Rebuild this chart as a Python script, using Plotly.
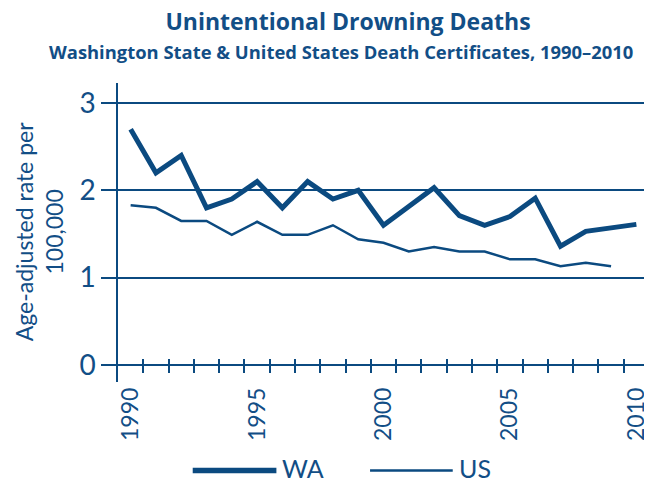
import plotly.graph_objects as go

years = list(range(1990, 2011))
wa_rate = [2.7, 2.2, 2.4, 1.8, 1.9, 2.1, 1.8, 2.1, 1.9, 2.0, 1.6,
           1.82, 2.03, 1.71, 1.6, 1.7, 1.91, 1.36, 1.53, 1.57, 1.61]
us_years = list(range(1990, 2010))
us_rate = [1.83, 1.8, 1.65, 1.65, 1.49, 1.64, 1.49, 1.49, 1.6, 1.44, 1.4,
           1.3, 1.35, 1.3, 1.3, 1.21, 1.21, 1.13, 1.17, 1.13]
x_label_years = [1990, 1995, 2000, 2005, 2010]
y_ticks = [0, 1, 2, 3]
minor_tick_years = [y + 0.5 for y in range(1990, 2010)]

title = "Unintentional Drowning Deaths"
subtitle = "Washington State &amp; United States Death Certificates, 1990\u20132010"
y_title = "Age-adjusted rate per<br>100,000"

BLUE = "#0b4a80"
TEXT = "#124e86"
FONT = "Lato"
TFONT = "Open Sans"

# the page body has an 8px margin; work in page pixels and shift
OFF = 8
W, H = 652 - OFF, 479 - OFF
ML, MR, MT, MB = 118 - OFF, 1, 83 - OFF, 97
PW, PH = W - ML - MR, H - MT - MB


def px(x):
    return (x - OFF - ML) / PW


def py(y):
    return (H - MB - (y - OFF)) / PH


def fx(x):
    return (x - OFF) / W


def fy(y):
    return 1 - (y - OFF) / H


fig = go.Figure()
fig.add_trace(go.Scatter(x=years, y=wa_rate, mode="lines", name="WA",
                         line=dict(color=BLUE, width=5), showlegend=False,
                         hoverinfo="skip"))
fig.add_trace(go.Scatter(x=us_years, y=us_rate, mode="lines", name="US",
                         line=dict(color=BLUE, width=2.5), showlegend=False,
                         hoverinfo="skip"))
# helper trace so the tick axis is drawn
fig.add_trace(go.Scatter(x=years, y=[None] * len(years), xaxis="x2",
                         showlegend=False, hoverinfo="skip"))

fig.update_layout(
    width=W, height=H, autosize=False,
    margin=dict(l=ML, r=MR, t=MT, b=MB, pad=0),
    paper_bgcolor="white", plot_bgcolor="white",
    font=dict(family=FONT, color=TEXT),
    title=dict(text="<b>" + title + "</b>", x=fx(348), y=fy(22),
               xref="paper", yref="container", xanchor="center",
               yanchor="middle",
               font=dict(size=23, color=TEXT, family=TFONT)),
    xaxis=dict(range=[1989.5, 2010.5], tickvals=x_label_years,
               ticktext=[str(v) for v in x_label_years], tickangle=-90,
               ticks="", showgrid=False, showline=False, zeroline=False,
               tickfont=dict(size=23, color=TEXT, family=FONT)),
    xaxis2=dict(range=[1989.5, 2010.5], overlaying="x", anchor="free",
                position=py(358.3), side="bottom", tickvals=minor_tick_years,
                ticks="outside", ticklen=13.4, tickwidth=1.5, tickcolor=BLUE,
                showticklabels=False, showgrid=False, showline=False,
                zeroline=False),
    yaxis=dict(range=[-17 / 87.33, 3 + 20 / 87.33], tickvals=y_ticks,
               ticks="outside", ticklen=15, tickwidth=1.5, tickcolor=BLUE,
               showgrid=True, gridcolor=BLUE, gridwidth=1.5,
               showline=True, linecolor=BLUE, linewidth=1.5, mirror=True,
               zeroline=False,
               tickfont=dict(size=28, color=TEXT, family=FONT)),
)
# title x given in container fraction
fig.update_layout(title_xref="container")

annotations = [
    dict(text="<b>" + subtitle + "</b>", x=px(342), y=py(51), xref="paper",
         yref="paper", xanchor="center", yanchor="middle", showarrow=False,
         font=dict(size=18.4, color=TEXT, family=TFONT)),
    dict(text=y_title, x=px(39), y=py(232), xref="paper", yref="paper",
         xanchor="center", yanchor="middle", textangle=-90, showarrow=False,
         font=dict(size=23, color=TEXT, family=FONT)),
    dict(text="WA", x=px(281), y=py(468), xref="paper", yref="paper",
         xanchor="left", yanchor="middle", showarrow=False,
         font=dict(size=25, color=TEXT, family=FONT)),
    dict(text="US", x=px(458), y=py(468), xref="paper", yref="paper",
         xanchor="left", yanchor="middle", showarrow=False,
         font=dict(size=25, color=TEXT, family=FONT)),
]
fig.update_layout(annotations=annotations)

shapes = [
    dict(type="line", xref="paper", yref="paper", x0=px(193), x1=px(277),
         y0=py(470.5), y1=py(470.5), line=dict(color=BLUE, width=5.5)),
    dict(type="line", xref="paper", yref="paper", x0=px(371), x1=px(454),
         y0=py(470.5), y1=py(470.5), line=dict(color=BLUE, width=2.5)),
]
fig.update_layout(shapes=shapes)

fig.write_html("out.html")
